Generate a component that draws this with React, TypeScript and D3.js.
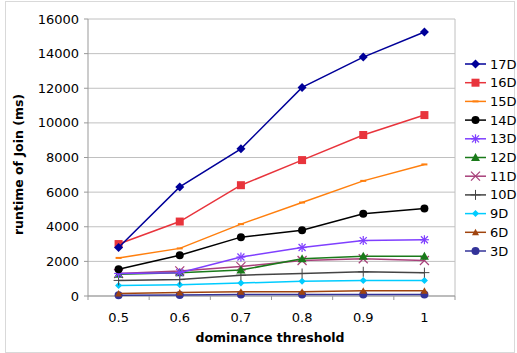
import React from "react";
import * as d3 from "d3";

const thresholds = ["0.5", "0.6", "0.7", "0.8", "0.9", "1"];
const yTicks = [0, 2000, 4000, 6000, 8000, 10000, 12000, 14000, 16000];

const s17 = [2800, 6300, 8500, 12050, 13800, 15250];
const s16 = [3000, 4300, 6400, 7850, 9300, 10450];
const s15 = [2200, 2750, 4150, 5400, 6650, 7600];
const s14 = [1550, 2350, 3400, 3800, 4750, 5050];
const s13 = [1300, 1350, 2250, 2800, 3200, 3250];
const s12 = [1250, 1350, 1500, 2150, 2300, 2300];
const s11 = [1300, 1450, 1700, 2050, 2150, 2050];
const s10 = [900, 950, 1200, 1300, 1400, 1350];
const s9 = [600, 650, 750, 850, 900, 900];
const s6 = [150, 200, 250, 250, 300, 300];
const s3 = [50, 60, 80, 80, 80, 80];

type Series = { name: string; values: number[]; color: string; marker: string };

const series: Series[] = [
  { name: "17D", values: s17, color: "#000099", marker: "diamond" },
  { name: "16D", values: s16, color: "#e8343c", marker: "square" },
  { name: "15D", values: s15, color: "#ff7f0e", marker: "dash" },
  { name: "14D", values: s14, color: "#000000", marker: "circle" },
  { name: "13D", values: s13, color: "#7f3fff", marker: "star" },
  { name: "12D", values: s12, color: "#1a7a1a", marker: "triangle" },
  { name: "11D", values: s11, color: "#a8407a", marker: "cross" },
  { name: "10D", values: s10, color: "#444444", marker: "plus" },
  { name: "9D", values: s9, color: "#00ccff", marker: "smalldiamond" },
  { name: "6D", values: s6, color: "#a0440e", marker: "smalltriangle" },
  { name: "3D", values: s3, color: "#333399", marker: "circle" },
];

const W = 517;
const H = 353;
const left = 88;
const right = 455;
const top = 19;
const bottom = 296;

const Marker = ({ kind, x, y, color }: { kind: string; x: number; y: number; color: string }) => {
  switch (kind) {
    case "diamond":
      return <path d={`M${x},${y - 4.5}L${x + 4.5},${y}L${x},${y + 4.5}L${x - 4.5},${y}Z`} fill={color} />;
    case "smalldiamond":
      return <path d={`M${x},${y - 3.5}L${x + 3.5},${y}L${x},${y + 3.5}L${x - 3.5},${y}Z`} fill={color} />;
    case "square":
      return <rect x={x - 4} y={y - 4} width={8} height={8} fill={color} />;
    case "dash":
      return <line x1={x - 3} x2={x + 3} y1={y} y2={y} stroke={color} strokeWidth={2} />;
    case "circle":
      return <circle cx={x} cy={y} r={4} fill={color} />;
    case "triangle":
      return <path d={`M${x},${y - 4.5}L${x + 4.5},${y + 3.5}L${x - 4.5},${y + 3.5}Z`} fill={color} />;
    case "smalltriangle":
      return <path d={`M${x},${y - 3.5}L${x + 3.5},${y + 3}L${x - 3.5},${y + 3}Z`} fill={color} />;
    case "star":
      return (
        <g stroke={color} strokeWidth={1.2}>
          <line x1={x - 4.5} x2={x + 4.5} y1={y} y2={y} />
          <line x1={x} x2={x} y1={y - 4.5} y2={y + 4.5} />
          <line x1={x - 3.5} x2={x + 3.5} y1={y - 3.5} y2={y + 3.5} />
          <line x1={x - 3.5} x2={x + 3.5} y1={y + 3.5} y2={y - 3.5} />
        </g>
      );
    case "cross":
      return (
        <g stroke={color} strokeWidth={1.2}>
          <line x1={x - 4.5} x2={x + 4.5} y1={y - 4.5} y2={y + 4.5} />
          <line x1={x - 4.5} x2={x + 4.5} y1={y + 4.5} y2={y - 4.5} />
        </g>
      );
    case "plus":
      return (
        <g stroke={color} strokeWidth={1}>
          <line x1={x - 5} x2={x + 5} y1={y} y2={y} />
          <line x1={x} x2={x} y1={y - 5} y2={y + 5} />
        </g>
      );
    default:
      return null;
  }
};

const App = () => {
  const x = d3.scaleBand<string>().domain(thresholds).range([left, right]);
  const y = d3.scaleLinear().domain([0, 16000]).range([bottom, top]);
  const cx = (t: string) => (x(t) ?? 0) + x.bandwidth() / 2;

  const line = d3
    .line<number>()
    .x((_, i) => cx(thresholds[i]))
    .y((d) => y(d));

  const font = "Verdana, 'DejaVu Sans', sans-serif";

  return (
    <svg width={W} height={H} style={{ position: "absolute", left: 0, top: 0 }} fontFamily={font}>
      <rect x={0} y={0} width={W} height={H} fill="#fff" />
      <rect x={5.5} y={1.5} width={W - 8} height={H - 2} fill="none" stroke="#d9d9d9" />
      {/* grid */}
      {yTicks.map((t) => (
        <line key={t} x1={left} x2={right} y1={y(t)} y2={y(t)} stroke="#c0c0c0" strokeWidth={1} />
      ))}
      <line x1={right} x2={right} y1={top} y2={bottom} stroke="#c0c0c0" />
      {/* axes */}
      <line x1={left} x2={left} y1={top} y2={bottom + 4} stroke="#999" />
      <line x1={left} x2={right} y1={bottom} y2={bottom} stroke="#999" />
      {yTicks.map((t) => (
        <g key={"yt" + t}>
          <line x1={left - 4} x2={left} y1={y(t)} y2={y(t)} stroke="#999" />
          <text x={left - 9} y={y(t)} dy="0.35em" textAnchor="end" fontSize={13} fill="#000">
            {t}
          </text>
        </g>
      ))}
      {thresholds.map((t, i) => (
        <g key={"xt" + t}>
          <line x1={(x(t) ?? 0) + x.bandwidth()} x2={(x(t) ?? 0) + x.bandwidth()} y1={bottom} y2={bottom + 4} stroke="#999" />
          <text x={cx(t)} y={bottom + 26} textAnchor="middle" fontSize={13} fill="#000">
            {t}
          </text>
        </g>
      ))}
      <text x={270} y={342} textAnchor="middle" fontSize={12.5} fontWeight="bold">
        dominance threshold
      </text>
      <text
        transform={`translate(23,${(top + bottom) / 2 + 7}) rotate(-90)`}
        textAnchor="middle"
        fontSize={12.5}
        fontWeight="bold"
      >
        runtime of Join (ms)
      </text>
      {/* series, drawn bottom-up so top series stay visible */}
      {[...series].reverse().map((s) => (
        <g key={s.name}>
          <path d={line(s.values) ?? ""} fill="none" stroke={s.color} strokeWidth={1.5} />
          {s.values.map((v, i) => (
            <Marker key={i} kind={s.marker} x={cx(thresholds[i])} y={y(v)} color={s.color} />
          ))}
        </g>
      ))}
      {/* legend */}
      {series.map((s, i) => {
        const ly = 64 + i * 18.7;
        return (
          <g key={"lg" + s.name}>
            <line x1={465} x2={486} y1={ly} y2={ly} stroke={s.color} strokeWidth={1.5} />
            <Marker kind={s.marker} x={475.5} y={ly} color={s.color} />
            <text x={490} y={ly} dy="0.35em" fontSize={13}>
              {s.name}
            </text>
          </g>
        );
      })}
    </svg>
  );
};

export default App;
